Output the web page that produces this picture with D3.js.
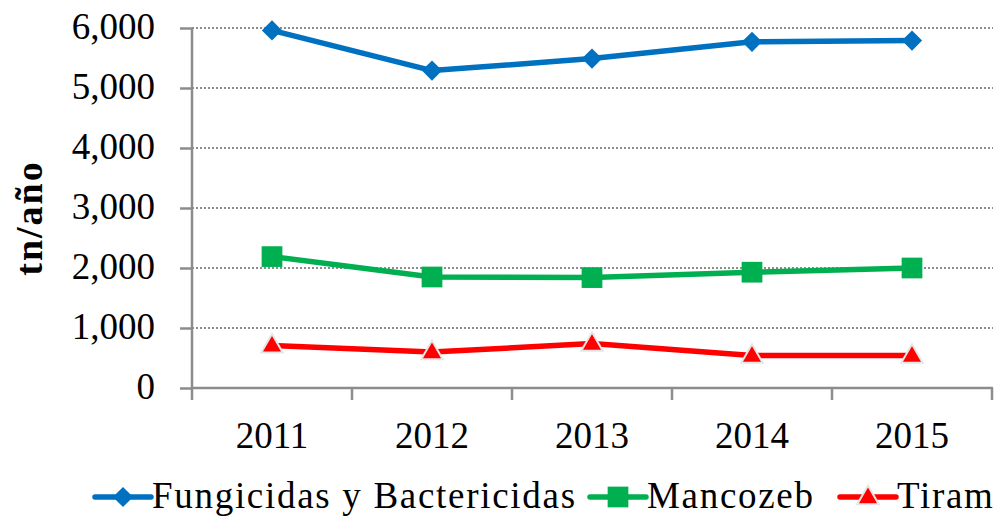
<!DOCTYPE html>
<html>
<head>
<meta charset="utf-8">
<script src="https://cdn.jsdelivr.net/npm/d3@7"></script>
<style>
  body { margin: 0; background: #fff; }
  text { font-family: "Liberation Serif", "Times New Roman", serif; fill: #000; }
</style>
</head>
<body>
<div class="chart"></div>
<script>
const years = ["2011", "2012", "2013", "2014", "2015"];
const fungicidas = [5960, 5290, 5490, 5770, 5790];
const mancozeb = [2190, 1850, 1840, 1930, 2000];
const tiram = [710, 600, 740, 540, 540];
const yTicks = [0, 1000, 2000, 3000, 4000, 5000, 6000];

const series = [
  { name: "Fungicidas y Bactericidas", values: fungicidas, color: "#0070C0", marker: "diamond" },
  { name: "Mancozeb", values: mancozeb, color: "#00B050", marker: "square" },
  { name: "Tiram", values: tiram, color: "#FF0000", marker: "triangle" }
];

const svgWidth = 1001;
const svgHeight = 519;
const serif = "'Liberation Serif', 'Times New Roman', serif";

const svg = d3.select(".chart")
              .append("svg")
              .attr("width", svgWidth)
              .attr("height", svgHeight);

const xScale = d3.scaleBand()
                 .domain(years)
                 .range([192, 992])
                 .padding(0);

const yScale = d3.scaleLinear()
                 .domain([0, 6000])
                 .range([388, 28]);

const axisColor = "#8c8c8c";

// dotted gridlines
svg.append("g")
   .selectAll("line")
   .data(yTicks.filter(d => d > 0))
   .enter()
   .append("line")
   .attr("x1", 192)
   .attr("x2", 993)
   .attr("y1", d => yScale(d))
   .attr("y2", d => yScale(d))
   .attr("stroke", "#8c8c8c")
   .attr("stroke-width", 2)
   .attr("stroke-dasharray", "2,2");

const yAxis = d3.axisLeft(yScale)
                .tickValues(yTicks)
                .tickFormat(d3.format(","))
                .tickSizeInner(12)
                .tickSizeOuter(0)
                .tickPadding(25);

const gy = svg.append("g")
              .attr("transform", "translate(192,0)")
              .call(yAxis);

gy.selectAll("text")
  .attr("dy", "0.27em")
  .style("font-size", "37px")
  .style("font-family", serif);

const xAxis = d3.axisBottom(xScale)
                .tickSize(0)
                .tickPadding(0);

const gx = svg.append("g")
              .attr("transform", "translate(0,388)")
              .call(xAxis);

gx.selectAll("text")
  .attr("y", 60)
  .attr("dy", 0)
  .style("font-size", "37px")
  .style("font-family", serif);

// category boundary ticks
gx.append("g")
  .selectAll("line")
  .data(years.concat(["end"]))
  .enter()
  .append("line")
  .attr("x1", (d, i) => 192 + i * xScale.bandwidth())
  .attr("x2", (d, i) => 192 + i * xScale.bandwidth())
  .attr("y1", 0)
  .attr("y2", 12);

[gx, gy].forEach(g => {
  g.select(".domain").attr("stroke", axisColor).attr("stroke-width", 2.5);
  g.selectAll("line").attr("stroke", axisColor).attr("stroke-width", 2.5);
});
gy.select(".domain").attr("d", "M0,388V28");
gx.select(".domain").attr("d", "M192,0H993").attr("transform", null);

// y label
svg.append("text")
   .attr("transform", "translate(42,218) rotate(-90)")
   .attr("text-anchor", "middle")
   .style("font-family", serif)
   .style("font-size", "38px")
   .style("letter-spacing", "2px")
   .style("font-weight", "bold")
   .text("tn/año");

const symbolFor = {
  diamond: d3.symbol().type(d3.symbolDiamond2).size(260),
  square: d3.symbol().type(d3.symbolSquare).size(430),
  triangle: d3.symbol().type(d3.symbolTriangle2).size(330)
};

const line = d3.line()
               .x((d, i) => xScale(years[i]) + xScale.bandwidth() / 2)
               .y(d => yScale(d));

function drawMarker(sel, s) {
  sel.attr("d", symbolFor[s.marker]())
     .attr("fill", s.color)
     .attr("stroke", s.marker === "triangle" ? "#e6e6e6" : "none")
     .attr("stroke-width", s.marker === "triangle" ? 2 : 0);
}

series.forEach(s => {
  svg.append("path")
     .datum(s.values)
     .attr("fill", "none")
     .attr("stroke", s.color)
     .attr("stroke-width", 5.5)
     .attr("stroke-linejoin", "round")
     .attr("d", line);

  svg.append("g")
     .selectAll("path")
     .data(s.values)
     .enter()
     .append("path")
     .attr("transform", (d, i) => "translate(" + (xScale(years[i]) + xScale.bandwidth() / 2) + "," + (yScale(d) + (s.marker === "triangle" ? 1 : 0)) + ")")
     .call(sel => drawMarker(sel, s));
});

// legend
const legendX = [95, 590, 840];
const legendY = 497;
series.forEach((s, i) => {
  const g = svg.append("g").attr("transform", "translate(" + legendX[i] + "," + legendY + ")");
  g.append("line")
   .attr("x1", 0)
   .attr("x2", 56)
   .attr("stroke", s.color)
   .attr("stroke-width", 5.5)
   .attr("stroke-linecap", "round");
  g.append("path")
   .attr("transform", "translate(28," + (s.marker === "triangle" ? 1 : 0) + ")")
   .call(sel => drawMarker(sel, s));
  g.append("text")
   .attr("x", 57)
   .attr("y", 11)
   .style("font-family", serif)
   .style("font-size", "37px")
   .style("letter-spacing", "1.7px")
   .text(s.name);
});
</script>
</body>
</html>
